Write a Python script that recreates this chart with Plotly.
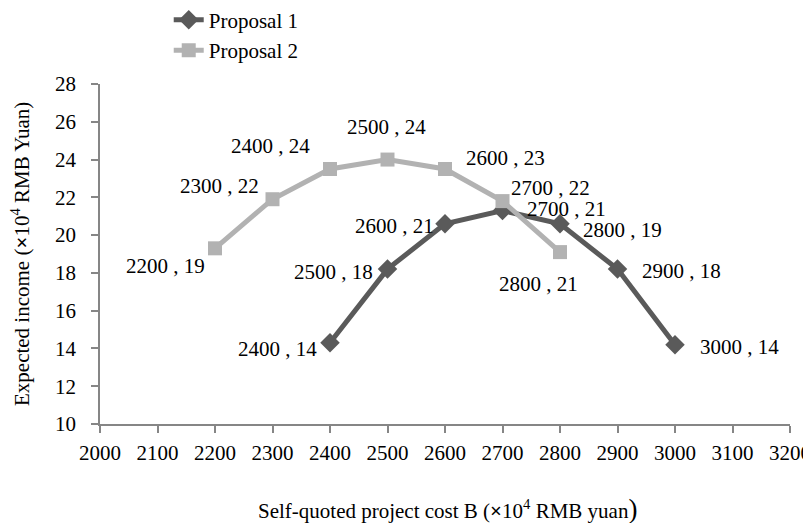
import plotly.graph_objects as go

# ---- data ----
p1_x = [2400, 2500, 2600, 2700, 2800, 2900, 3000]
p1_y = [14.3, 18.2, 20.6, 21.3, 20.6, 18.2, 14.2]
p1_labels = ["2400 , 14", "2500 , 18", "2600 , 21", "2700 , 21", "2800 , 19", "2900 , 18", "3000 , 14"]

p2_x = [2200, 2300, 2400, 2500, 2600, 2700, 2800]
p2_y = [19.3, 21.9, 23.5, 24.0, 23.5, 21.8, 19.1]
p2_labels = ["2200 , 19", "2300 , 22", "2400 , 24", "2500 , 24", "2600 , 23", "2700 , 22", "2800 , 21"]

x_ticks = list(range(2000, 3201, 100))
y_ticks = list(range(10, 29, 2))

x_title = "Self-quoted project cost B (<b>×</b>10<sup>4</sup> RMB yuan<span style='font-size:27px'>)</span>"
y_title = "Expected income (<b>×</b>10<sup>4</sup> RMB Yuan)"

# label offsets in pixels (style)
p1_shift = [(-53, -6), (-54, -3), (-51, -2), (64, 2), (62, -6), (64, -2), (64, -2)]
p2_shift = [(-50, -18), (-53, 13), (-60, 23), (-1, 33), (60, 11), (48, 13), (-22, -32)]

FONT = "Liberation Serif, Times New Roman, serif"
FS = 21
C1 = "#5a5a5a"
C2 = "#b2b2b2"
AX = "#868686"

fig = go.Figure()
fig.add_trace(go.Scatter(
    x=p1_x, y=p1_y, mode="lines+markers", name="Proposal 1",
    line=dict(color=C1, width=5),
    marker=dict(symbol="diamond", size=15, color=C1),
    legendgroup="a",
))
fig.add_trace(go.Scatter(
    x=p2_x, y=p2_y, mode="lines+markers", name="Proposal 2",
    line=dict(color=C2, width=5),
    marker=dict(symbol="square", size=14, color=C2),
    legendgroup="b",
))

ann = []
for xs, ys, labs, shifts in [(p1_x, p1_y, p1_labels, p1_shift), (p2_x, p2_y, p2_labels, p2_shift)]:
    for xv, yv, t, (dx, dy) in zip(xs, ys, labs, shifts):
        ann.append(dict(x=xv, y=yv, xref="x", yref="y", text=t, showarrow=False,
                        xshift=dx, yshift=dy, xanchor="center", yanchor="middle",
                        font=dict(family=FONT, size=FS, color="#000")))

# axis titles
ann.append(dict(x=0.5, y=0, xref="paper", yref="paper", text=x_title, showarrow=False,
                xanchor="center", yanchor="middle", xshift=2, yshift=-85,
                font=dict(family=FONT, size=FS, color="#000")))
ann.append(dict(x=0, y=0.5, xref="paper", yref="paper", text=y_title, showarrow=False,
                xanchor="center", yanchor="middle", xshift=-80, textangle=-90,
                font=dict(family=FONT, size=FS, color="#000")))

# page body has an 8px margin -> figure is 803x515
fig.update_layout(
    width=803, height=515,
    margin=dict(l=92, r=21, t=76, b=99, autoexpand=False),
    paper_bgcolor="white", plot_bgcolor="white",
    font=dict(family=FONT, size=FS, color="#000"),
    annotations=ann,
    showlegend=True,
    legend=dict(x=0.0996, y=1.248, xanchor="left", yanchor="top",
                traceorder="grouped", tracegroupgap=0,
                font=dict(family=FONT, size=FS), bgcolor="rgba(0,0,0,0)"),
    xaxis=dict(range=[2000, 3200], tickvals=x_ticks, ticktext=[str(v) for v in x_ticks],
               showgrid=False, zeroline=False, showline=True, linecolor=AX, linewidth=1.5,
               ticks="outside", ticklen=7, tickcolor=AX, tickwidth=1.5,
               ticklabelstandoff=2,
               tickfont=dict(family=FONT, size=FS)),
    yaxis=dict(range=[10, 28], tickvals=y_ticks, ticktext=[str(v) for v in y_ticks],
               showgrid=False, zeroline=False, showline=True, linecolor=AX, linewidth=1.5,
               ticks="outside", ticklen=7, tickcolor=AX, tickwidth=1.5,
               ticklabelstandoff=11,
               tickfont=dict(family=FONT, size=FS)),
)

fig.write_html("out.html")
